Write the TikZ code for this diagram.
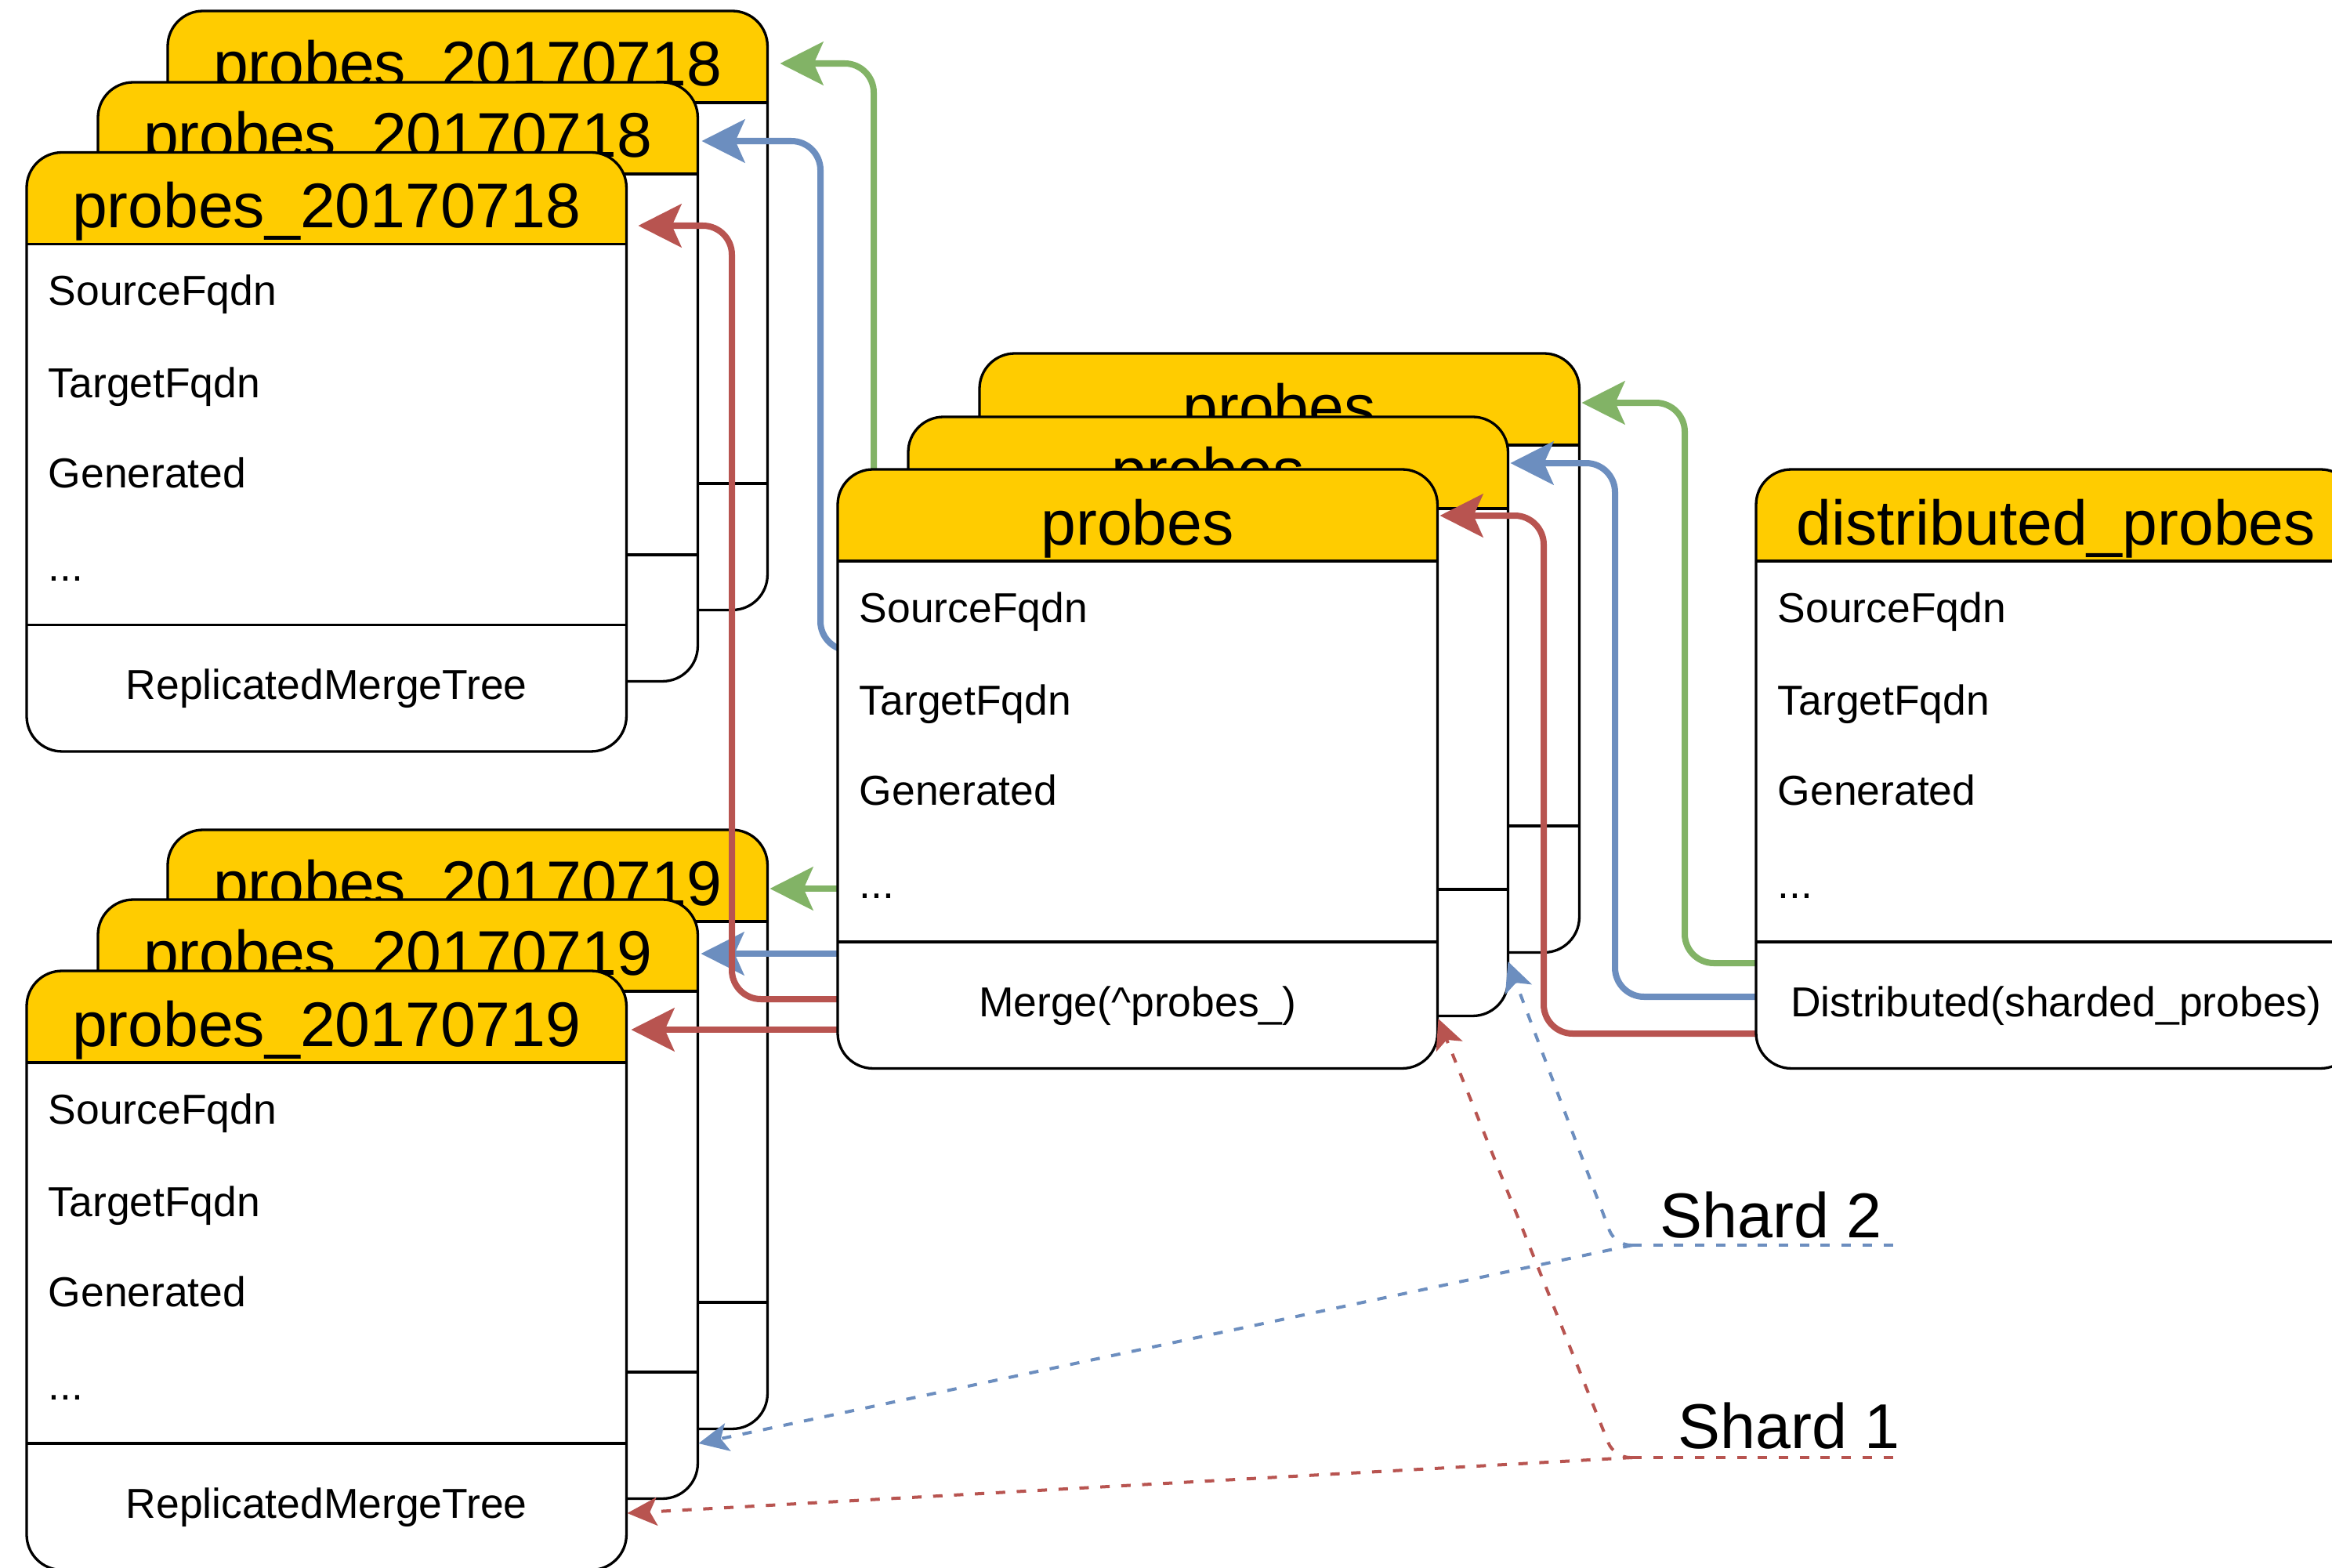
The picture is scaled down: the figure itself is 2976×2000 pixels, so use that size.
\documentclass[tikz,border=0pt]{standalone}
\usepackage{fontspec}
\setmainfont{Liberation Sans}
\usetikzlibrary{arrows.meta,calc}
\definecolor{hdr}{HTML}{FFCC00}
\definecolor{gr}{HTML}{82B366}
\definecolor{bl}{HTML}{6C8EBF}
\definecolor{rd}{HTML}{B85450}
\tikzset{
  cardframe/.style={draw, line width=0.033cm, rounded corners=0.45cm, minimum width=7.65cm, minimum height=7.64cm, inner sep=0pt, outer sep=0pt},
  bline/.style={line width=0.033cm},
  ttltxt/.style={anchor=base, inner sep=0pt, font=\fontsize{22.9pt}{27pt}\selectfont},
  rowtxt/.style={anchor=base west, inner sep=0pt, font=\fontsize{15.2pt}{18pt}\selectfont},
  foottxt/.style={anchor=base, inner sep=0pt, font=\fontsize{15.2pt}{18pt}\selectfont},
  shardtxt/.style={anchor=base west, inner sep=0pt, font=\fontsize{23pt}{27pt}\selectfont},
  sarrow/.style={line width=0.08cm, rounded corners=0.37cm, -{Stealth[length=0.55cm,width=0.55cm,inset=0.12cm]}},
  dline/.style={line width=0.04cm, dash pattern=on 0.12cm off 0.147cm},
  darrow/.style={dline, -{Stealth[length=0.38cm,width=0.36cm,inset=0.09cm]}}
}
\newcommand\tcard[5]{%
  \begin{scope}
    \clip[rounded corners=0.45cm] (#2,#3) rectangle ++(765,764);
    \fill[white] (#2,#3) rectangle ++(765,764);
    \fill[hdr] (#2,#3) rectangle ++(765,117);
  \end{scope}
  \node[cardframe, anchor=north west] (#1) at (#2,#3) {};
  \draw[bline] ($(#1.north west)+(0,117)$) -- ($(#1.north east)+(0,117)$);
  \draw[bline] ($(#1.north west)+(0,603)$) -- ($(#1.north east)+(0,603)$);
  \node[ttltxt] (#1-t) at ($(#1.north)+(0,96)$) {#4};
  \node[rowtxt] (#1-a) at ($(#1.north west)+(27,195)$) {SourceFqdn};
  \node[rowtxt] (#1-b) at ($(#1.north west)+(27,313)$) {TargetFqdn};
  \node[rowtxt] (#1-c) at ($(#1.north west)+(27,428)$) {Generated};
  \node[rowtxt] (#1-d) at ($(#1.north west)+(27,547)$) {...};
  \node[foottxt] (#1-f) at ($(#1.north)+(0,698)$) {#5};
}
\begin{document}
\begin{tikzpicture}[x=0.01cm, y=-0.01cm]
\useasboundingbox (0,0) rectangle (2976,2000);
\clip (0,0) rectangle (2976,2000);
\fill[white] (0,0) rectangle (2976,2000);

% left stacks
\tcard{t1B}{214}{14}{probes\_20170718}{ReplicatedMergeTree}
\tcard{t1M}{125}{105}{probes\_20170718}{ReplicatedMergeTree}
\tcard{t1F}{34}{194.5}{probes\_20170718}{ReplicatedMergeTree}
\tcard{t2B}{214}{1059}{probes\_20170719}{ReplicatedMergeTree}
\tcard{t2M}{125}{1148}{probes\_20170719}{ReplicatedMergeTree}
\tcard{t2F}{34}{1239}{probes\_20170719}{ReplicatedMergeTree}

% coordinates for hidden sources (center stack positions)
\coordinate (pBw) at (1250,1134);
\coordinate (pMw1) at (1159,830);
\coordinate (pMw2) at (1159,1217);
\coordinate (pFw1) at (1069,1275);
\coordinate (pFw2) at (1069,1314);

% arrows from center stack to left stacks
\draw[sarrow, gr] (pBw) -- (1115,1134) -- (1115,81) -- ($(t1B.north east)+(16,67)$);
\draw[sarrow, gr] (pBw) -- ($(t2B.north east)+(3,75)$);
\draw[sarrow, bl] (pMw1) -- (1047,830) -- (1047,180) -- ($(t1M.north east)+(5,75)$);
\draw[sarrow, bl] (pMw2) -- ($(t2M.north east)+(4,69)$);
\draw[sarrow, rd] (pFw1) -- (934,1275) -- (934,288) -- ($(t1F.north east)+(15,93.5)$);
\draw[sarrow, rd] (pFw2) -- ($(t2F.north east)+(6,75)$);

% center stack
\tcard{pB}{1250}{451}{probes}{Merge(\textasciicircum probes\_)}
\tcard{pM}{1159}{532}{probes}{Merge(\textasciicircum probes\_)}
\tcard{pF}{1069}{599}{probes}{Merge(\textasciicircum probes\_)}

% arrows from distributed to center stack
\coordinate (dg) at (2241,1229);
\coordinate (db) at (2241,1272);
\coordinate (dr) at (2241,1319);
\draw[sarrow, gr] (dg) -- (2150,1229) -- (2150,514) -- ($(pB.north east)+(3,63)$);
\draw[sarrow, bl] (db) -- (2061,1272) -- (2061,591) -- ($(pM.north east)+(3,59)$);
\draw[sarrow, rd] (dr) -- (1970,1319) -- (1970,658) -- ($(pF.north east)+(3,59)$);

% distributed table
\tcard{d}{2241}{599}{distributed\_probes}{Distributed(sharded\_probes)}

% shards
\node[shardtxt] (s2) at (2118,1579) {Shard 2};
\node[shardtxt] (s1) at (2141,1848) {Shard 1};
\coordinate (s2a) at (2083,1589);
\coordinate (s2b) at (2420,1589);
\coordinate (s1a) at (2083,1860);
\coordinate (s1b) at (2420,1860);
\draw[dline, bl] (s2a) -- (s2b);
\draw[darrow, bl, rounded corners=0.2cm] (s2a) -- (2061,1589) -- ($(pM.north east)+(0,695)$);
\draw[darrow, bl] (s2a) -- ($(t2M.north east)+(1,694)$);
\draw[dline, rd] (s1a) -- (s1b);
\draw[darrow, rd, rounded corners=0.2cm] (s1a) -- (2060,1860) -- ($(pF.north east)+(1,701)$);
\draw[darrow, rd] (s1a) -- ($(t2F.north east)+(1,692)$);
\end{tikzpicture}
\end{document}
